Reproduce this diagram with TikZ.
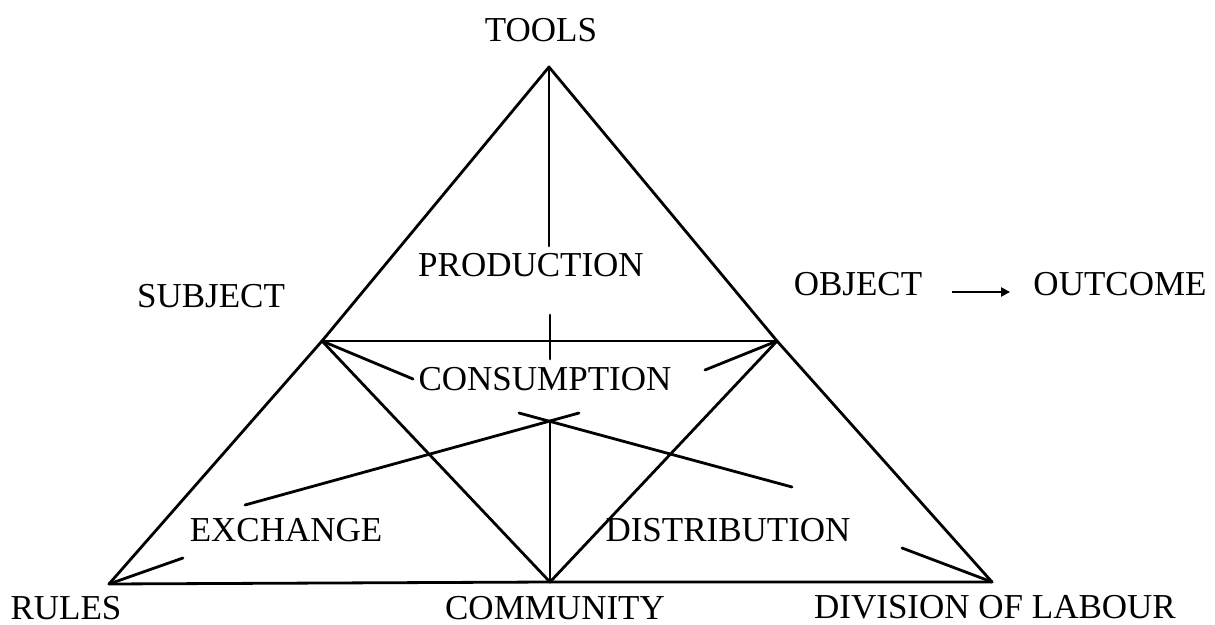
\documentclass[tikz,border=0pt]{standalone}
\usepackage{fontspec}
\setmainfont{Liberation Serif}
\usetikzlibrary{arrows.meta,calc}
\begin{document}
\begin{tikzpicture}[x=0.5pt,y=-0.5pt,
  edge/.style={line width=1.4pt, line join=round, line cap=round},
  lbl/.style={inner sep=0pt, font=\fontsize{17.5}{20}\selectfont},
  flow/.style={line width=1.4pt, -{Triangle[length=4.5pt,width=4.5pt]}}]
\useasboundingbox (0,0) rectangle (1215,625);
% vertices
\coordinate (T) at (549,67);
\coordinate (S) at (322,341);
\coordinate (O) at (777,341);
\coordinate (R) at (109,584);
\coordinate (C) at (550,582);
\coordinate (D) at (992,582);
\coordinate (X) at (550,421);
% labels
\node[lbl] (tools) at (541,30) {TOOLS};
\node[lbl] (subject) at (211,296) {SUBJECT};
\node[lbl] (object) at (858,284) {OBJECT};
\node[lbl] (outcome) at (1120,284) {OUTCOME};
\node[lbl] (production) at (531,265) {PRODUCTION};
\node[lbl] (consumption) at (545,379) {CONSUMPTION};
\node[lbl] (exchange) at (286,530) {EXCHANGE};
\node[lbl] (distribution) at (728,530) {DISTRIBUTION};
\node[lbl] (rules) at (66,608) {RULES};
\node[lbl] (community) at (555,608) {COMMUNITY};
\node[lbl] (division) at (995,607) {DIVISION OF LABOUR};
% free ends
\coordinate (prodtop) at (549,246);
\coordinate (ticktop) at (550,315);
\coordinate (tickbot) at (550,359);
\coordinate (sc) at (413,379);
\coordinate (oc) at (705,370);
\coordinate (xl) at (519,413);
\coordinate (xr) at (579,413);
\coordinate (ex) at (245,505);
\coordinate (di) at (792,487);
\coordinate (re) at (183,558);
\coordinate (dd) at (902,548);
% outer triangle
\draw[edge] (T) -- (S) -- (R) -- (C) -- (D) -- (O) -- cycle;
% inner lines
\draw[edge] (S) -- (O);
\draw[edge] (S) -- (C) -- (O);
\draw[edge] (T) -- (prodtop);
\draw[edge] (ticktop) -- (tickbot);
\draw[edge] (S) -- (sc);
\draw[edge] (O) -- (oc);
\draw[edge] (X) -- (C);
\draw[edge] (xr) -- (ex);
\draw[edge] (xl) -- (di);
\draw[edge] (R) -- (re);
\draw[edge] (D) -- (dd);
% outcome arrow
\draw[flow] ($(object.east)+(29,8)$) -- ($(outcome.west)+(-23,8)$);
\end{tikzpicture}
\end{document}
